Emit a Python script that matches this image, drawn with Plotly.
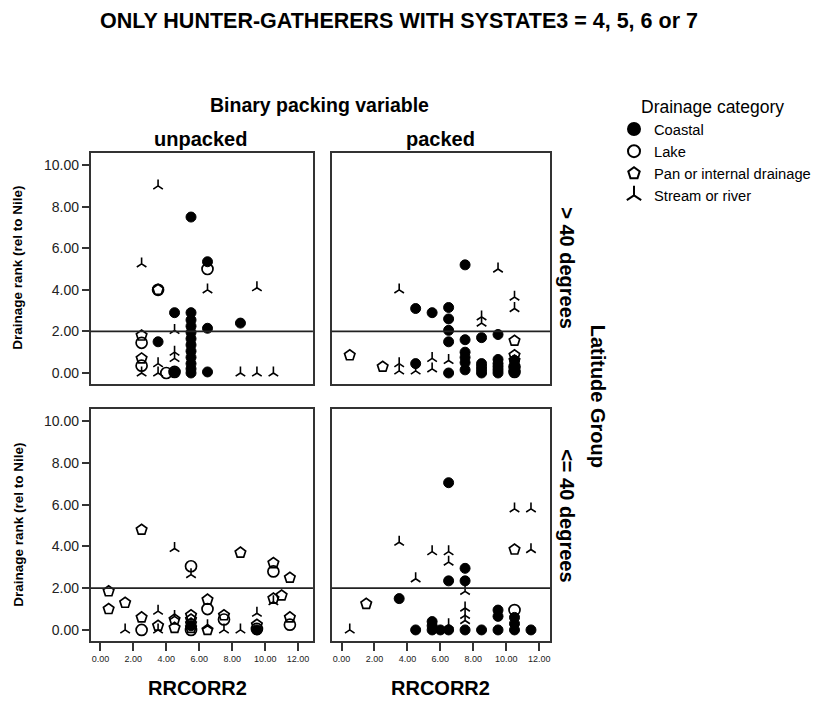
import plotly.graph_objects as go

# ---------------- data ----------------
categories = ["Coastal", "Lake", "Pan or internal drainage", "Stream or river"]
C, L, P, S = categories

x_tickvals = [0, 2, 4, 6, 8, 10, 12]
y_tickvals = [0, 2, 4, 6, 8, 10]
reference_y = 2.0

col_labels = ["unpacked", "packed"]
row_labels = ["> 40 degrees", "<= 40 degrees"]

# unpacked, > 40 degrees
unpacked_gt40_x = [3.5, 2.5, 6.5, 9.5, 4.5, 4.5, 4.5, 3.5, 3.5, 2.5, 8.5, 9.5, 10.5,
                   5.5, 6.5, 4.5, 5.5, 5.5, 5.5, 5.5, 5.5, 5.5, 5.5, 5.5, 5.5, 5.5, 5.5,
                   6.5, 6.5, 8.5, 3.5, 4.5,
                   6.5, 3.5, 2.5, 2.5, 4.0, 4.5,
                   3.5, 2.5, 2.5]
unpacked_gt40_y = [9.0, 5.25, 4.0, 4.1, 2.05, 1.0, 0.7, 0.45, 0.0, 0.0, 0.0, 0.0, 0.0,
                   7.5, 5.35, 2.9, 2.9, 2.55, 2.25, 1.95, 1.65, 1.35, 1.05, 0.75, 0.45, 0.2, 0.0,
                   2.15, 0.05, 2.4, 1.5, 0.05,
                   5.0, 4.0, 1.45, 0.35, 0.0, 0.05,
                   4.0, 1.8, 0.7]
unpacked_gt40_cat = [S] * 13 + [C] * 19 + [L] * 6 + [P] * 3

# packed, > 40 degrees
packed_gt40_x = [0.5, 2.5, 10.5, 10.5, 10.5,
                 10.5, 10.5,
                 3.5, 3.5, 3.5, 4.5, 5.5, 5.5, 6.5, 8.5, 8.5, 9.5, 10.5, 10.5,
                 4.5, 4.5, 5.5, 6.5, 6.5, 6.5, 6.5, 6.5, 7.5, 7.5, 7.5, 7.5, 7.5, 7.5,
                 8.5, 8.5, 8.5, 8.5, 8.5, 9.5, 9.5, 9.5, 9.5, 9.5, 9.5, 10.5, 10.5, 10.5]
packed_gt40_y = [0.85, 0.3, 1.55, 0.85, 0.6,
                 0.3, 0.05,
                 4.0, 0.45, 0.1, 0.1, 0.7, 0.2, 0.6, 2.7, 2.4, 5.0, 3.65, 3.1,
                 3.1, 0.45, 2.9, 3.15, 2.6, 2.05, 1.5, 0.0, 5.2, 1.6, 1.0, 0.75, 0.5, 0.15,
                 1.7, 0.45, 0.3, 0.15, 0.0, 1.85, 0.65, 0.45, 0.3, 0.15, 0.0, 0.6, 0.3, 0.05]
packed_gt40_cat = [P] * 5 + [L] * 2 + [S] * 12 + [C] * 28

# unpacked, <= 40 degrees
unpacked_le40_x = [0.5, 0.5, 1.5, 2.5, 2.5, 3.5, 4.5, 4.5, 5.5, 5.5, 5.5, 5.5, 6.5, 6.5,
                   7.5, 8.5, 9.5, 10.5, 10.5, 11.0, 11.5, 11.5,
                   2.5, 5.5, 5.5, 6.5, 7.5, 9.5, 10.5, 11.5,
                   1.5, 3.5, 3.5, 4.5, 4.5, 5.5, 6.5, 7.5, 8.5, 9.5, 10.5,
                   5.5, 9.5]
unpacked_le40_y = [1.85, 1.0, 1.3, 4.8, 0.6, 0.2, 0.5, 0.1, 0.7, 0.5, 0.3, 0.1, 1.45, 0.0,
                   0.7, 3.7, 0.25, 3.2, 1.5, 1.65, 2.5, 0.6,
                   0.0, 3.05, 0.0, 1.0, 0.5, 0.05, 2.8, 0.25,
                   0.0, 0.9, 0.0, 3.9, 0.65, 2.65, 0.2, 0.0, 0.0, 0.8, 1.35,
                   0.2, 0.0]
unpacked_le40_cat = [P] * 22 + [L] * 8 + [S] * 11 + [C] * 2

# packed, <= 40 degrees
packed_le40_x = [0.5, 3.5, 4.5, 5.5, 6.5, 6.5, 6.5, 7.5, 7.5, 7.5, 7.5, 10.5, 11.5, 11.5,
                 1.5, 10.5,
                 10.5,
                 3.5, 4.5, 5.5, 5.5, 5.5, 6.0, 6.5, 6.5, 6.5, 7.5, 7.5, 7.5, 8.5,
                 9.5, 9.5, 9.5, 10.5, 10.5, 10.5, 11.5]
packed_le40_y = [0.0, 4.2, 2.45, 3.75, 3.75, 3.25, 0.25, 1.85, 1.05, 0.7, 0.45, 5.8, 5.8, 3.85,
                 1.25, 3.85,
                 0.95,
                 1.5, 0.0, 0.4, 0.2, 0.0, 0.0, 7.05, 2.35, 0.0, 2.95, 2.35, 0.0, 0.0,
                 0.95, 0.65, 0.0, 0.6, 0.3, 0.0, 0.0]
packed_le40_cat = [S] * 14 + [P] * 2 + [L] * 1 + [C] * 20

# ---------------- styling ----------------
FONT = "Liberation Sans, Arial, sans-serif"
W, H = 816, 704

styles = {
    C: dict(symbol="circle", size=10, color="black", line=dict(color="black", width=1)),
    L: dict(symbol="circle-open", size=11, color="black", line=dict(color="black", width=1.7)),
    P: dict(symbol="pentagon-open", size=11, color="black", line=dict(color="black", width=1.7)),
    S: dict(symbol="y-up-open", size=8, color="black", line=dict(color="black", width=1.6)),
}

# panel pixel boxes (left, right, top, bottom)
boxes = [
    (92, 318, 153, 384),
    (337, 559, 153, 384),
    (92, 318, 409, 641),
    (337, 559, 409, 641),
]
xranges = [[-0.6, 12.9], [-0.6, 12.66], [-0.6, 12.9], [-0.6, 12.66]]
yrange = [-0.53, 10.58]

panels = [
    (unpacked_gt40_x, unpacked_gt40_y, unpacked_gt40_cat),
    (packed_gt40_x, packed_gt40_y, packed_gt40_cat),
    (unpacked_le40_x, unpacked_le40_y, unpacked_le40_cat),
    (packed_le40_x, packed_le40_y, packed_le40_cat),
]

fig = go.Figure()
layout = {}
shapes = []

for i, ((px, py, pc), box, xr) in enumerate(zip(panels, boxes, xranges)):
    n = i + 1
    xa = "x" if n == 1 else f"x{n}"
    ya = "y" if n == 1 else f"y{n}"
    for cat in categories:
        xs = [a for a, c in zip(px, pc) if c == cat]
        ys = [b for b, c in zip(py, pc) if c == cat]
        fig.add_trace(go.Scatter(
            x=xs, y=ys, mode="markers", name=cat, xaxis=xa, yaxis=ya,
            marker=styles[cat], showlegend=(n == 1), legendgroup=cat,
            hoverinfo="skip"))
    l, r, t, b = box
    left_col = n in (1, 3)
    bottom_row = n in (3, 4)
    layout[("xaxis" if n == 1 else f"xaxis{n}")] = dict(
        domain=[l / W, r / W], range=xr, anchor=ya,
        showgrid=False, zeroline=False, showline=True, mirror=True,
        linecolor="#333", linewidth=1.5,
        tickmode="array", tickvals=x_tickvals if bottom_row else [],
        tickformat=".2f", ticks="outside" if bottom_row else "",
        ticklen=8, tickwidth=1.5, tickcolor="#333",
        showticklabels=bottom_row,
        tickfont=dict(family=FONT, size=9, color="#222"),
    )
    layout[("yaxis" if n == 1 else f"yaxis{n}")] = dict(
        domain=[1 - b / H, 1 - t / H], range=yrange, anchor=xa,
        showgrid=False, zeroline=False, showline=True, mirror=True,
        linecolor="#333", linewidth=1.5,
        tickmode="array", tickvals=y_tickvals if left_col else [],
        tickformat=".2f", ticks="outside" if left_col else "",
        ticklen=7, tickwidth=1.5, tickcolor="#333",
        showticklabels=left_col,
        tickfont=dict(family=FONT, size=14, color="#222"),
    )
    shapes.append(dict(type="line", xref=f"{xa} domain", yref=ya,
                       x0=0, x1=1, y0=reference_y, y1=reference_y,
                       line=dict(color="#222", width=1.6)))

annotations = [
    dict(text="<b>ONLY HUNTER-GATHERERS WITH SYSTATE3 = 4, 5, 6 or 7</b>",
         x=405 / W, y=1 - 21 / H, font=dict(size=21.5, family=FONT, color="black")),
    dict(text="<b>Binary packing variable</b>", x=325 / W, y=1 - 105 / H,
         font=dict(size=19.5, family=FONT, color="black")),
    dict(text="<b>" + col_labels[0] + "</b>", x=204 / W, y=1 - 139 / H,
         font=dict(size=20, family=FONT, color="black")),
    dict(text="<b>" + col_labels[1] + "</b>", x=448 / W, y=1 - 139 / H,
         font=dict(size=20, family=FONT, color="black")),
    dict(text="<b>" + row_labels[0] + "</b>", x=576 / W, y=1 - 268 / H, textangle=90,
         font=dict(size=20, family=FONT, color="black")),
    dict(text="<b>" + row_labels[1] + "</b>", x=576 / W, y=1 - 516 / H, textangle=90,
         font=dict(size=20, family=FONT, color="black")),
    dict(text="<b>Latitude Group</b>", x=608 / W, y=1 - 396 / H, textangle=90,
         font=dict(size=20, family=FONT, color="black")),
    dict(text="<b>Drainage rank (rel to Nile)</b>", x=18 / W, y=1 - 268 / H, textangle=-90,
         font=dict(size=13.5, family=FONT, color="black")),
    dict(text="<b>Drainage rank (rel to Nile)</b>", x=18 / W, y=1 - 525 / H, textangle=-90,
         font=dict(size=13.5, family=FONT, color="black")),
    dict(text="<b>RRCORR2</b>", x=201 / W, y=1 - 688 / H,
         font=dict(size=20, family=FONT, color="black")),
    dict(text="<b>RRCORR2</b>", x=448 / W, y=1 - 688 / H,
         font=dict(size=20, family=FONT, color="black")),
    dict(text="Drainage category", x=724 / W, y=1 - 107 / H,
         font=dict(size=17.5, family=FONT, color="black")),
]
for a in annotations:
    a.update(xref="paper", yref="paper", showarrow=False, xanchor="center", yanchor="middle")

fig.update_layout(
    width=W, height=H, margin=dict(l=0, r=0, t=0, b=0),
    paper_bgcolor="white", plot_bgcolor="white",
    font=dict(family=FONT, color="black"),
    shapes=shapes, annotations=annotations,
    legend=dict(x=624 / W, y=1 - 113 / H, xanchor="left", yanchor="top",
                font=dict(size=14.7, family=FONT), itemsizing="constant",
                bgcolor="rgba(0,0,0,0)", tracegroupgap=0),
    **layout,
)

fig.write_html("out.html")
